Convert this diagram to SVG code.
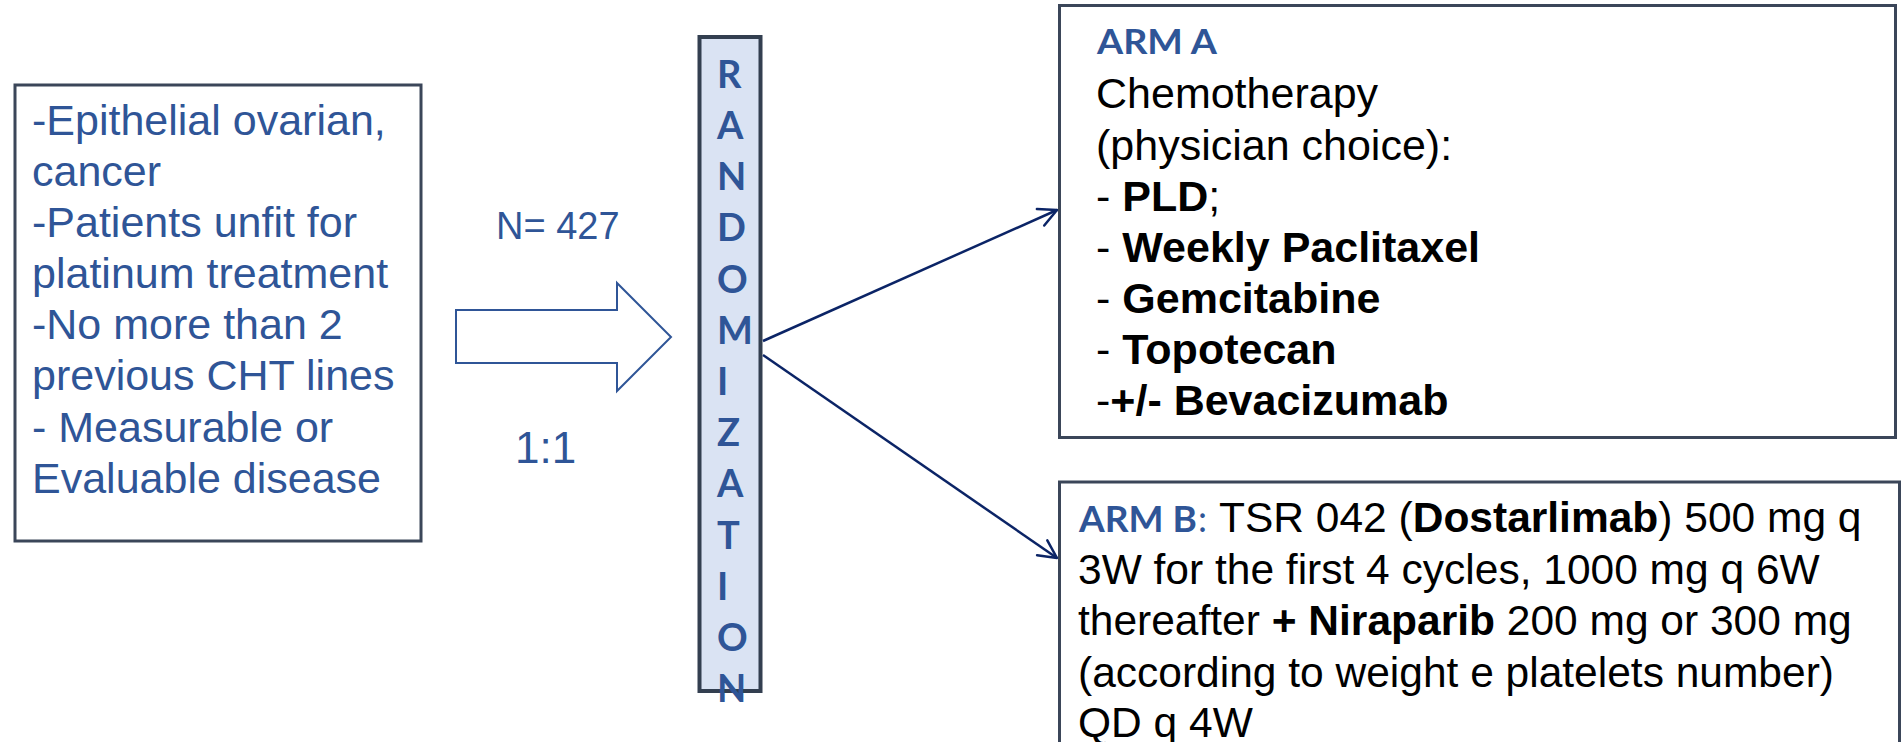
<svg xmlns="http://www.w3.org/2000/svg" width="1903" height="742" viewBox="0 0 1903 742">
<style>
.t{font-family:"Liberation Sans",Arial,sans-serif;font-size:43px}
.blue{fill:#2f5597}
.blk{fill:#000}
.b{font-weight:bold}
.cal{font-family:Lato,"Open Sans",sans-serif;font-weight:bold}
.box{fill:#fff;stroke:#3b4659;stroke-width:3}
.conn{stroke:#0b2466;stroke-width:2.5;fill:none}
</style>
<defs>
<marker id="open" markerUnits="userSpaceOnUse" viewBox="-22 -12 24 24" markerWidth="24" markerHeight="24" refX="0" refY="0" orient="auto" overflow="visible">
<path d="M-18,-9 L0,0 L-18,9" fill="none" stroke="#0b2466" stroke-width="2.5" stroke-linecap="round" stroke-linejoin="round"/>
</marker>
</defs>
<rect width="1903" height="742" fill="#fff"/>

<g id="eligibility">
<rect class="box" x="15" y="85" width="406" height="456" stroke-width="3.5"/>
<text class="t blue" x="32">
<tspan x="32" y="135">-Epithelial ovarian,</tspan>
<tspan x="32" y="186">cancer</tspan>
<tspan x="32" y="237">-Patients unfit for</tspan>
<tspan x="32" y="288">platinum treatment</tspan>
<tspan x="32" y="339">-No more than 2</tspan>
<tspan x="32" y="390">previous CHT lines</tspan>
<tspan x="32" y="442">- Measurable or</tspan>
<tspan x="32" y="493">Evaluable disease</tspan>
</text>
</g>

<g id="block-arrow">
<polygon points="456,310 617,310 617,283 671,337 617,391 617,363 456,363" fill="#fff" stroke="#2f5597" stroke-width="2"/>
<text class="t blue" x="496" y="239" style="font-size:38px">N= 427</text>
<text class="t blue" x="515" y="463" style="font-size:44px">1:1</text>
</g>

<g id="randomization">
<rect x="699.5" y="37" width="61" height="654" fill="#dae3f3" stroke="#333f50" stroke-width="4"/>
<text class="cal blue" font-size="38" x="717">
<tspan x="717" y="87.7">R</tspan>
<tspan x="717" y="138.9">A</tspan>
<tspan x="717" y="190.1">N</tspan>
<tspan x="717" y="241.3">D</tspan>
<tspan x="717" y="292.5">O</tspan>
<tspan x="717" y="343.7">M</tspan>
<tspan x="717" y="394.9">I</tspan>
<tspan x="717" y="446.1">Z</tspan>
<tspan x="717" y="497.3">A</tspan>
<tspan x="717" y="548.5">T</tspan>
<tspan x="717" y="599.7">I</tspan>
<tspan x="717" y="650.9">O</tspan>
<tspan x="717" y="702.1">N</tspan>
</text>
</g>

<g id="connectors">
<line class="conn" x1="763" y1="341" x2="1057" y2="210" marker-end="url(#open)"/>
<line class="conn" x1="763" y1="355" x2="1057" y2="558" marker-end="url(#open)"/>
</g>

<g id="arm-a">
<rect class="box" x="1059.5" y="5.5" width="836" height="432" stroke="#404a5a"/>
<text class="cal blue" x="1097" y="54" font-size="35" textLength="120" lengthAdjust="spacingAndGlyphs">ARM A</text>
<text class="t blk">
<tspan x="1096" y="108">Chemotherapy</tspan>
<tspan x="1096" y="160">(physician choice):</tspan>
<tspan x="1096" y="211">- <tspan class="b">PLD</tspan>;</tspan>
<tspan x="1096" y="262">- <tspan class="b">Weekly Paclitaxel</tspan></tspan>
<tspan x="1096" y="313">- <tspan class="b">Gemcitabine</tspan></tspan>
<tspan x="1096" y="364">- <tspan class="b">Topotecan</tspan></tspan>
<tspan x="1096" y="415">-<tspan class="b">+/- Bevacizumab</tspan></tspan>
</text>
</g>

<g id="arm-b">
<rect class="box" x="1059.5" y="482" width="840" height="300" stroke="#404a5a"/>
<text class="cal blue" x="1079" y="532" font-size="36" textLength="118" lengthAdjust="spacingAndGlyphs">ARM B</text>
<text class="blue" x="1198" y="532" style="font-family:Lato,sans-serif;font-size:36px">:</text>
<text class="t blk" style="font-size:42.5px">
<tspan x="1219" y="532">TSR 042 (<tspan class="b">Dostarlimab</tspan>) 500 mg q</tspan>
<tspan x="1078" y="583.5">3W for the first 4 cycles, 1000 mg q 6W</tspan>
<tspan x="1078" y="635">thereafter <tspan class="b">+ Niraparib</tspan> 200 mg or 300 mg</tspan>
<tspan x="1078" y="686.5">(according to weight e platelets number)</tspan>
<tspan x="1078" y="737">QD q 4W</tspan>
</text>
</g>
</svg>
